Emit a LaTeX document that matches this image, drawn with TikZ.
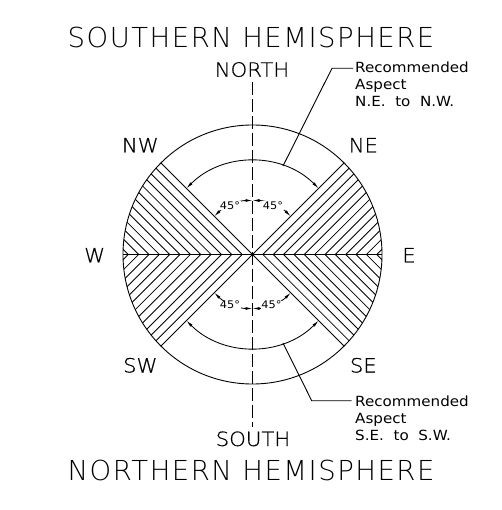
\documentclass[tikz,border=0pt]{standalone}
\usepackage{fontspec}
\usetikzlibrary{arrows.meta}
\newfontfamily\cad{DejaVu Sans}[FakeStretch=1.08]
\IfFontExistsTF{DejaVu Sans ExtraLight}
  {\newfontfamily\cadwide{DejaVu Sans ExtraLight}[LetterSpace=5.5]
   \newfontfamily\cadlight{DejaVu Sans ExtraLight}[FakeStretch=1.08,FakeBold=0.6]}
  {\newfontfamily\cadwide{DejaVu Sans}[LetterSpace=5.5]
   \newfontfamily\cadlight{DejaVu Sans}[FakeStretch=1.08]}
\begin{document}
\begin{tikzpicture}[x=1pt,y=1pt,
  thinline/.style={line width=0.9pt},
  hatchline/.style={line width=0.85pt},
  dimarc/.style={line width=0.85pt,{Latex[length=7pt,width=3pt]}-{Latex[length=7pt,width=3pt]}},
  headtext/.style={font={\cadwide\fontsize{27.5}{30}\selectfont},inner sep=0pt,anchor=base},
  dirtext/.style={font={\cadlight\fontsize{19.6}{24}\selectfont},inner sep=0pt,anchor=base},
  degtext/.style={font={\cad\fontsize{10.5}{12}\selectfont},fill=white,inner sep=0.5pt},
  notetext/.style={font={\cad\fontsize{14}{17}\selectfont},inner sep=0pt,align=left,anchor=north west},
  centreline/.style={line width=0.9pt,dash pattern=on 13pt off 4pt},
]
\useasboundingbox (-252.5,-255.5) rectangle (248.5,254.5);
\def\R{129.5}
\def\Ri{93.5}
\def\Rs{54}
\def\s{10.35}
% hatching
\begin{scope}
  \clip (0,0) circle (\R);
  \foreach \k in {1,...,12}{
    \draw[hatchline] (-\k*\s,0) -- ++(-200,200);
    \draw[hatchline] (-\k*\s,0) -- ++(-200,-200);
    \draw[hatchline] (\k*\s,0) -- ++(200,200);
    \draw[hatchline] (\k*\s,0) -- ++(200,-200);
  }
\end{scope}
% circle and axes
\draw[thinline] (0,0) circle (\R);
\draw[thinline] (180:\R) -- (0:\R);
\draw[thinline] (135:\R) -- (315:\R);
\draw[thinline] (45:\R) -- (225:\R);
\coordinate (ctop) at (0,172.5);
\coordinate (cbot) at (0,-172.5);
\draw[centreline] (ctop) -- (cbot);
% recommended aspect arcs
\draw[dimarc] (45:\Ri) arc[start angle=45,end angle=135,radius=\Ri];
\draw[dimarc] (225:\Ri) arc[start angle=225,end angle=315,radius=\Ri];
% 45 degree arcs
\draw[dimarc] (90:\Rs) arc[start angle=90,end angle=135,radius=\Rs];
\draw[dimarc] (90:\Rs) arc[start angle=90,end angle=45,radius=\Rs];
\draw[dimarc] (270:\Rs) arc[start angle=270,end angle=225,radius=\Rs];
\draw[dimarc] (270:\Rs) arc[start angle=270,end angle=315,radius=\Rs];
\node[degtext] (dtl) at (-22.5,49) {45°};
\node[degtext] (dtr) at (20.5,49) {45°};
\node[degtext] (dbl) at (-22.5,-50.5) {45°};
\node[degtext] (dbr) at (19,-50.5) {45°};
% leaders
\coordinate (ldrA) at (71:\Ri);
\coordinate (kneeA) at (79.5,186.2);
\coordinate (endA) at (100.5,186.2);
\draw[thinline] (ldrA) -- (kneeA) -- (endA);
\coordinate (ldrB) at (-71:\Ri);
\coordinate (kneeB) at (59.2,-146.2);
\coordinate (endB) at (99.2,-146.2);
\draw[thinline] (ldrB) -- (kneeB) -- (endB);
\node[notetext] (noteA) at (102.5,192.4) {Recommended\\Aspect\\N.E.~~to~~N.W.};
\node[notetext] (noteB) at (102.5,-141.4) {Recommended\\Aspect\\S.E.~~to~~S.W.};
% labels
\node[headtext] (south) at (-1.5,206.5) {SOUTHERN HEMISPHERE};
\node[headtext] (north) at (-1.5,-225.5) {NORTHERN HEMISPHERE};
\node[dirtext] (n) at (-0.5,177.8) {NORTH};
\node[dirtext] (s) at (0.5,-191.5) {SOUTH};
\node[dirtext] (nw) at (-112.2,102.2) {NW};
\node[dirtext] (ne) at (110.8,102.2) {NE};
\node[dirtext] (sw) at (-112.2,-118) {SW};
\node[dirtext] (se) at (110.8,-118) {SE};
\node[dirtext] (w) at (-157.8,-7.8) {W};
\node[dirtext] (e) at (156.5,-7.8) {E};
\end{tikzpicture}
\end{document}
